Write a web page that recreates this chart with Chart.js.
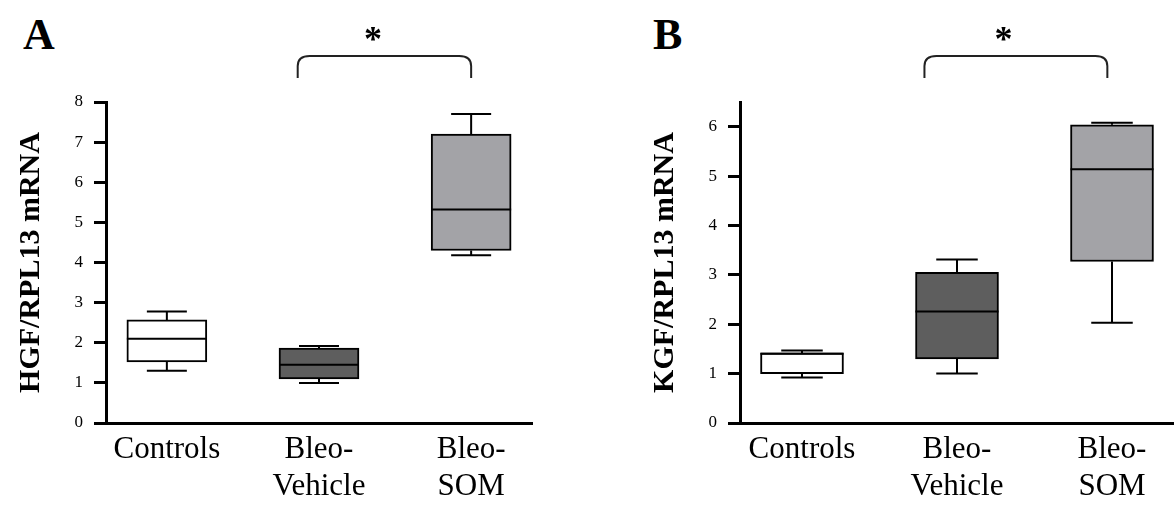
<!DOCTYPE html>
<html>
<head>
<meta charset="utf-8">
<script src="https://cdn.jsdelivr.net/npm/chart.js@4.4.1/dist/chart.umd.min.js"></script>
<style>
  body { margin: 0; background: #fff; width: 1174px; height: 510px; position: relative; overflow: hidden; }
  .panel { position: absolute; top: 0; width: 587px; height: 510px; }
  .letter { position: absolute; top: 9px; font: bold 44px 'Liberation Serif', serif; color: #000; }
</style>
</head>
<body>
<div class="letter" style="left:23px">A</div>
<div class="letter" style="left:653px">B</div>
<div class="panel" style="left:0"><canvas id="chartA"></canvas></div>
<div class="panel" style="left:587px"><canvas id="chartB"></canvas></div>

<script>
// groups on the x axis
const groupLabels = ['Controls', ['Bleo-', 'Vehicle'], ['Bleo-', 'SOM']];
const groupPos = [1, 2, 3];
const boxColors = ['#ffffff', '#5e5e5e', '#a3a3a7'];

// HGF/RPL13 mRNA (panel A)
const hgfMin    = [1.30, 1.00, 4.18];
const hgfQ1     = [1.52, 1.10, 4.30];
const hgfMedian = [2.10, 1.45, 5.32];
const hgfQ3     = [2.57, 1.87, 7.20];
const hgfMax    = [2.78, 1.92, 7.70];
const hgfTicks  = [0, 1, 2, 3, 4, 5, 6, 7, 8];

// KGF/RPL13 mRNA (panel B)
const kgfMin    = [0.92, 1.00, 2.03];
const kgfQ1     = [1.00, 1.30, 3.27];
const kgfMedian = [1.40, 2.26, 5.14];
const kgfQ3     = [1.42, 3.05, 6.04];
const kgfMax    = [1.47, 3.31, 6.08];
const kgfTicks  = [0, 1, 2, 3, 4, 5, 6];

// significance bracket: [from, to], star position
const hgfBracket = [1.86, 3.0];
const hgfStar = 2.355;
const kgfBracket = [1.79, 2.97];
const kgfStar = 2.30;

const serif = "'Liberation Serif', 'Times New Roman', serif";

// whiskers + median lines, drawn on top of the floating bars
const boxPlotPlugin = {
  id: 'boxWhiskers',
  afterDatasetsDraw(chart) {
    const o = chart.options.plugins.boxWhiskers;
    const xs = chart.scales.x, ys = chart.scales.y;
    const meta = chart.getDatasetMeta(0);
    const ctx = chart.ctx;
    ctx.save();
    ctx.strokeStyle = '#000';
    ctx.lineWidth = 2;
    o.median.forEach((m, i) => {
      const cx = xs.getPixelForValue(groupPos[i]);
      const half = meta.data[i].width / 2;
      const cap = half / 2;
      ctx.beginPath();
      // upper whisker
      ctx.moveTo(cx, ys.getPixelForValue(o.q3[i]));
      ctx.lineTo(cx, ys.getPixelForValue(o.max[i]));
      ctx.moveTo(cx - cap, ys.getPixelForValue(o.max[i]));
      ctx.lineTo(cx + cap, ys.getPixelForValue(o.max[i]));
      // lower whisker
      ctx.moveTo(cx, ys.getPixelForValue(o.q1[i]));
      ctx.lineTo(cx, ys.getPixelForValue(o.min[i]));
      ctx.moveTo(cx - cap, ys.getPixelForValue(o.min[i]));
      ctx.lineTo(cx + cap, ys.getPixelForValue(o.min[i]));
      // median
      ctx.moveTo(cx - half, ys.getPixelForValue(m));
      ctx.lineTo(cx + half, ys.getPixelForValue(m));
      ctx.stroke();
    });
    ctx.restore();
  }
};

const bracketPlugin = {
  id: 'sigBracket',
  afterDraw(chart) {
    const o = chart.options.plugins.sigBracket;
    const xs = chart.scales.x;
    const area = chart.chartArea;
    const ctx = chart.ctx;
    const x1 = xs.getPixelForValue(o.from), x2 = xs.getPixelForValue(o.to);
    const yTop = area.top - 46, yEnd = area.top - 24;
    ctx.save();
    ctx.strokeStyle = '#222';
    ctx.lineWidth = 2;
    ctx.beginPath();
    ctx.moveTo(x1, yEnd);
    ctx.lineTo(x1, yTop + 10);
    ctx.quadraticCurveTo(x1, yTop, x1 + 12, yTop);
    ctx.lineTo(x2 - 12, yTop);
    ctx.quadraticCurveTo(x2, yTop, x2, yTop + 10);
    ctx.lineTo(x2, yEnd);
    ctx.stroke();
    ctx.fillStyle = '#000';
    ctx.font = 'bold 36px ' + serif;
    ctx.textAlign = 'center';
    ctx.textBaseline = 'alphabetic';
    ctx.fillText('*', xs.getPixelForValue(o.star), area.top - 51);
    ctx.restore();
  }
};

function makePanel(id, p) {
  const ctx = document.getElementById(id).getContext('2d');
  return new Chart(ctx, {
    type: 'bar',
    data: {
      datasets: [{
        data: groupPos.map((x, i) => ({ x: x, y: [p.q1[i], p.q3[i]] })),
        backgroundColor: boxColors,
        borderColor: '#000',
        borderWidth: 2,
        borderSkipped: false,
        barThickness: p.boxWidth
      }]
    },
    options: {
      responsive: true,
      maintainAspectRatio: false,
      animation: false,
      layout: { padding: { left: p.padLeft, right: p.padRight, top: 102, bottom: 0 } },
      plugins: {
        legend: { display: false },
        tooltip: { enabled: false },
        boxWhiskers: p,
        sigBracket: { from: p.bracket[0], to: p.bracket[1], star: p.star }
      },
      scales: {
        x: {
          type: 'linear',
          min: 0.6,
          max: 3.4,
          offset: false,
          afterBuildTicks: s => { s.ticks = groupPos.map(v => ({ value: v })); },
          afterFit: s => { s.height = 87; },
          grid: { display: false, drawTicks: false, offset: false },
          border: { display: true, color: '#000', width: 3 },
          ticks: {
            padding: 8,
            color: '#000',
            maxRotation: 0,
            autoSkip: false,
            font: { family: serif, size: 31, lineHeight: 1.2 },
            callback: (v, i) => groupLabels[i]
          }
        },
        y: {
          min: 0,
          max: p.yMax,
          afterBuildTicks: s => { s.ticks = p.ticks.map(v => ({ value: v })); },
          afterFit: s => { s.width = 93; },
          grid: { display: true, drawOnChartArea: false, drawTicks: true, tickLength: 12, lineWidth: 3, color: '#000' },
          border: { display: true, color: '#000', width: 3 },
          ticks: { padding: 11, color: '#000', font: { family: serif, size: 17 } },
          title: {
            display: true,
            text: p.title,
            color: '#000',
            padding: 0,
            font: { family: serif, size: 30, weight: 'bold', lineHeight: 1.2 }
          }
        }
      }
    },
    plugins: [boxPlotPlugin, bracketPlugin]
  });
}

makePanel('chartA', {
  title: 'HGF/RPL13 mRNA', yMax: 8, ticks: hgfTicks,
  min: hgfMin, q1: hgfQ1, median: hgfMedian, q3: hgfQ3, max: hgfMax,
  bracket: hgfBracket, star: hgfStar,
  boxWidth: 80, padLeft: 13, padRight: 55
});

makePanel('chartB', {
  title: 'KGF/RPL13 mRNA', yMax: 6.5, ticks: kgfTicks,
  min: kgfMin, q1: kgfQ1, median: kgfMedian, q3: kgfQ3, max: kgfMax,
  bracket: kgfBracket, star: kgfStar,
  boxWidth: 83, padLeft: 60, padRight: 0
});
</script>
</body>
</html>
